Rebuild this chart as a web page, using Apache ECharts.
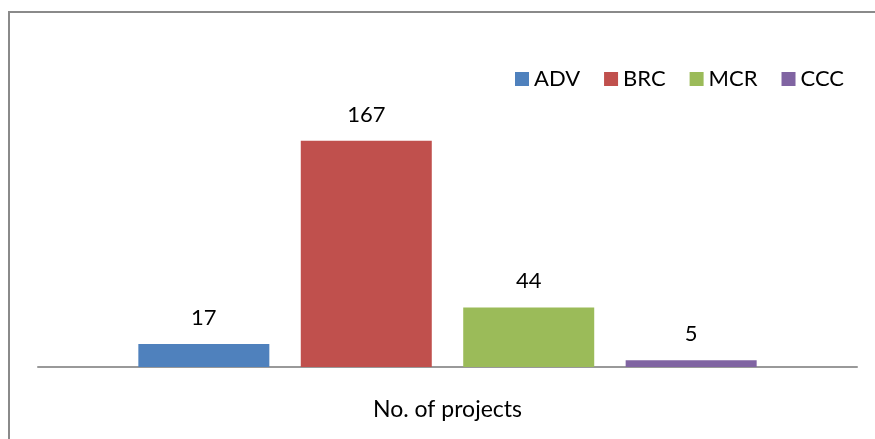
<!DOCTYPE html>
<html>
<head>
<meta charset="utf-8">
<script src="https://cdn.jsdelivr.net/npm/echarts@6/dist/echarts.min.js"></script>
<style>
  html, body { margin: 0; padding: 0; background: #fff; }
  #chart { width: 875px; height: 439px; }
</style>
</head>
<body>
<div id="chart"></div>
<script>
const categories = ['No. of projects'];
const seriesNames = ['ADV', 'BRC', 'MCR', 'CCC'];
const seriesValues = [17, 167, 44, 5];
const seriesColors = ['#4F81BD', '#C0504D', '#9BBB59', '#8064A2'];

const font = 'Lato, "Open Sans", sans-serif';

const chart = echarts.init(document.getElementById('chart'));

chart.setOption({
  animation: false,
  backgroundColor: '#fff',
  graphic: [
    {
      type: 'rect',
      shape: { x: 9, y: 12, width: 900, height: 500 },
      style: { fill: 'none', stroke: '#8a8a8a', lineWidth: 2 },
    },
  ],
  legend: {
    data: seriesNames,
    top: 63,
    left: 510,
    itemWidth: 14,
    itemHeight: 14,
    itemGap: 24,
    icon: 'rect',
    textStyle: { fontFamily: font, fontSize: 22, color: '#000' },
  },
  grid: { left: 38, right: 18, top: 96, bottom: 72 },
  xAxis: {
    type: 'category',
    data: categories,
    axisLine: { lineStyle: { color: '#999', width: 2 } },
    axisTick: { show: false },
    axisLabel: { margin: 31, fontFamily: font, fontSize: 23, color: '#000' },
  },
  yAxis: {
    type: 'value',
    min: 0,
    max: 200,
    show: false,
    splitLine: { show: false },
  },
  series: seriesNames.map((name, i) => ({
    name,
    type: 'bar',
    data: [seriesValues[i]],
    barWidth: 131,
    barGap: '24%',
    itemStyle: { color: seriesColors[i] },
    label: {
      show: true,
      position: 'top',
      distance: 15,
      fontFamily: font,
      fontSize: 22,
      color: '#000',
    },
  })),
});
</script>
</body>
</html>
